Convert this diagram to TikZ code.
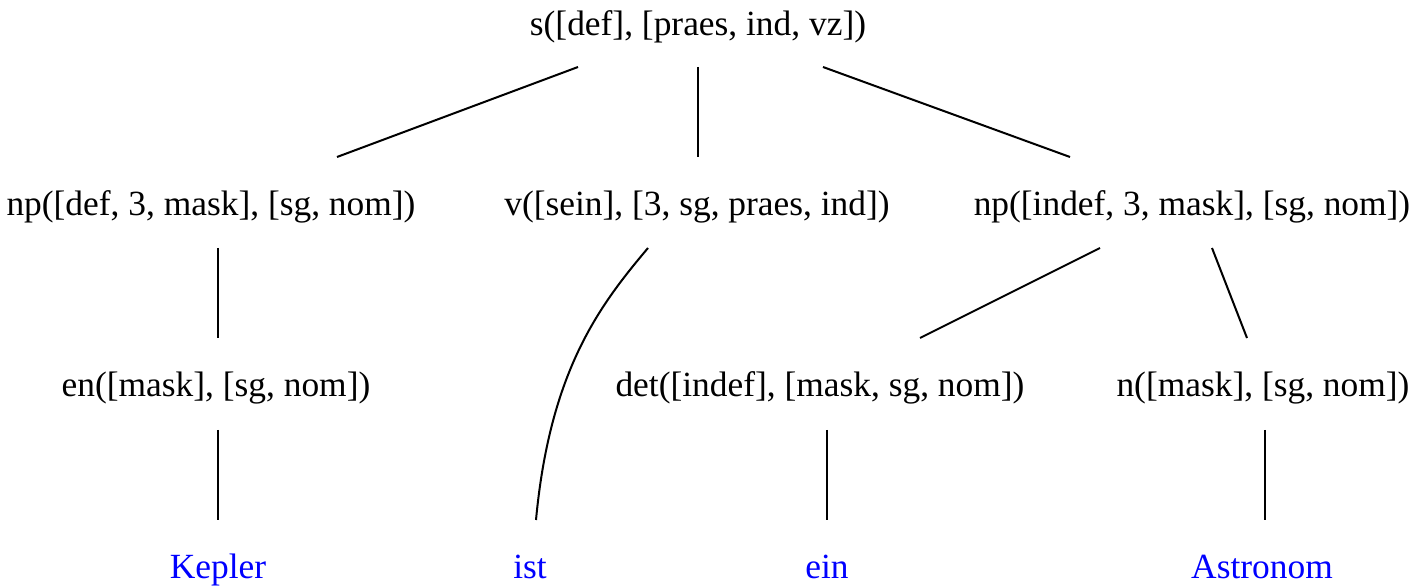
\documentclass[tikz,border=0pt]{standalone}
\usepackage{fontspec}
\setmainfont{Liberation Serif}
\usetikzlibrary{calc}
\begin{document}
\begin{tikzpicture}[x=0.5pt,y=-0.5pt,
  every node/.style={font=\fontsize{17.7}{20}\selectfont, inner sep=0pt, anchor=base},
  word/.style={text=blue},
  edge/.style={line width=1pt}]
\useasboundingbox (0,0) rectangle (1414,587);
% nodes
\node (s) at (698,36) {s([def], [praes, ind, vz])};
\node (np1) at (211,216) {np([def, 3, mask], [sg, nom])};
\node (v) at (697,216) {v([sein], [3, sg, praes, ind])};
\node (np2) at (1192,216) {np([indef, 3, mask], [sg, nom])};
\node (en) at (216,397) {en([mask], [sg, nom])};
\node (det) at (820,397) {det([indef], [mask, sg, nom])};
\node (n) at (1263,397) {n([mask], [sg, nom])};
\node[word] (kepler) at (218,578) {Kepler};
\node[word] (ist) at (530,578) {ist};
\node[word] (ein) at (827,578) {ein};
\node[word] (astronom) at (1262,578) {Astronom};
% edges
\draw[edge] ($(s.base)+(-120,31)$) -- ($(np1.base)+(126,-59)$);
\draw[edge] ($(s.base)+(0,31)$) -- ($(v.base)+(1,-59)$);
\draw[edge] ($(s.base)+(125,31)$) -- ($(np2.base)+(-122,-59)$);
\draw[edge] ($(np1.base)+(7,32)$) -- ($(en.base)+(2,-59)$);
\draw[edge] ($(v.base)+(-49,32)$) .. controls (600,305) and (550,370) .. ($(ist.base)+(6,-58)$);
\draw[edge] ($(np2.base)+(-92,32)$) -- ($(det.base)+(100,-59)$);
\draw[edge] ($(np2.base)+(20,32)$) -- ($(n.base)+(-16,-59)$);
\draw[edge] ($(en.base)+(2,33)$) -- ($(kepler.base)+(0,-58)$);
\draw[edge] ($(det.base)+(7,33)$) -- ($(ein.base)+(0,-58)$);
\draw[edge] ($(n.base)+(2,33)$) -- ($(astronom.base)+(3,-58)$);
\end{tikzpicture}
\end{document}
